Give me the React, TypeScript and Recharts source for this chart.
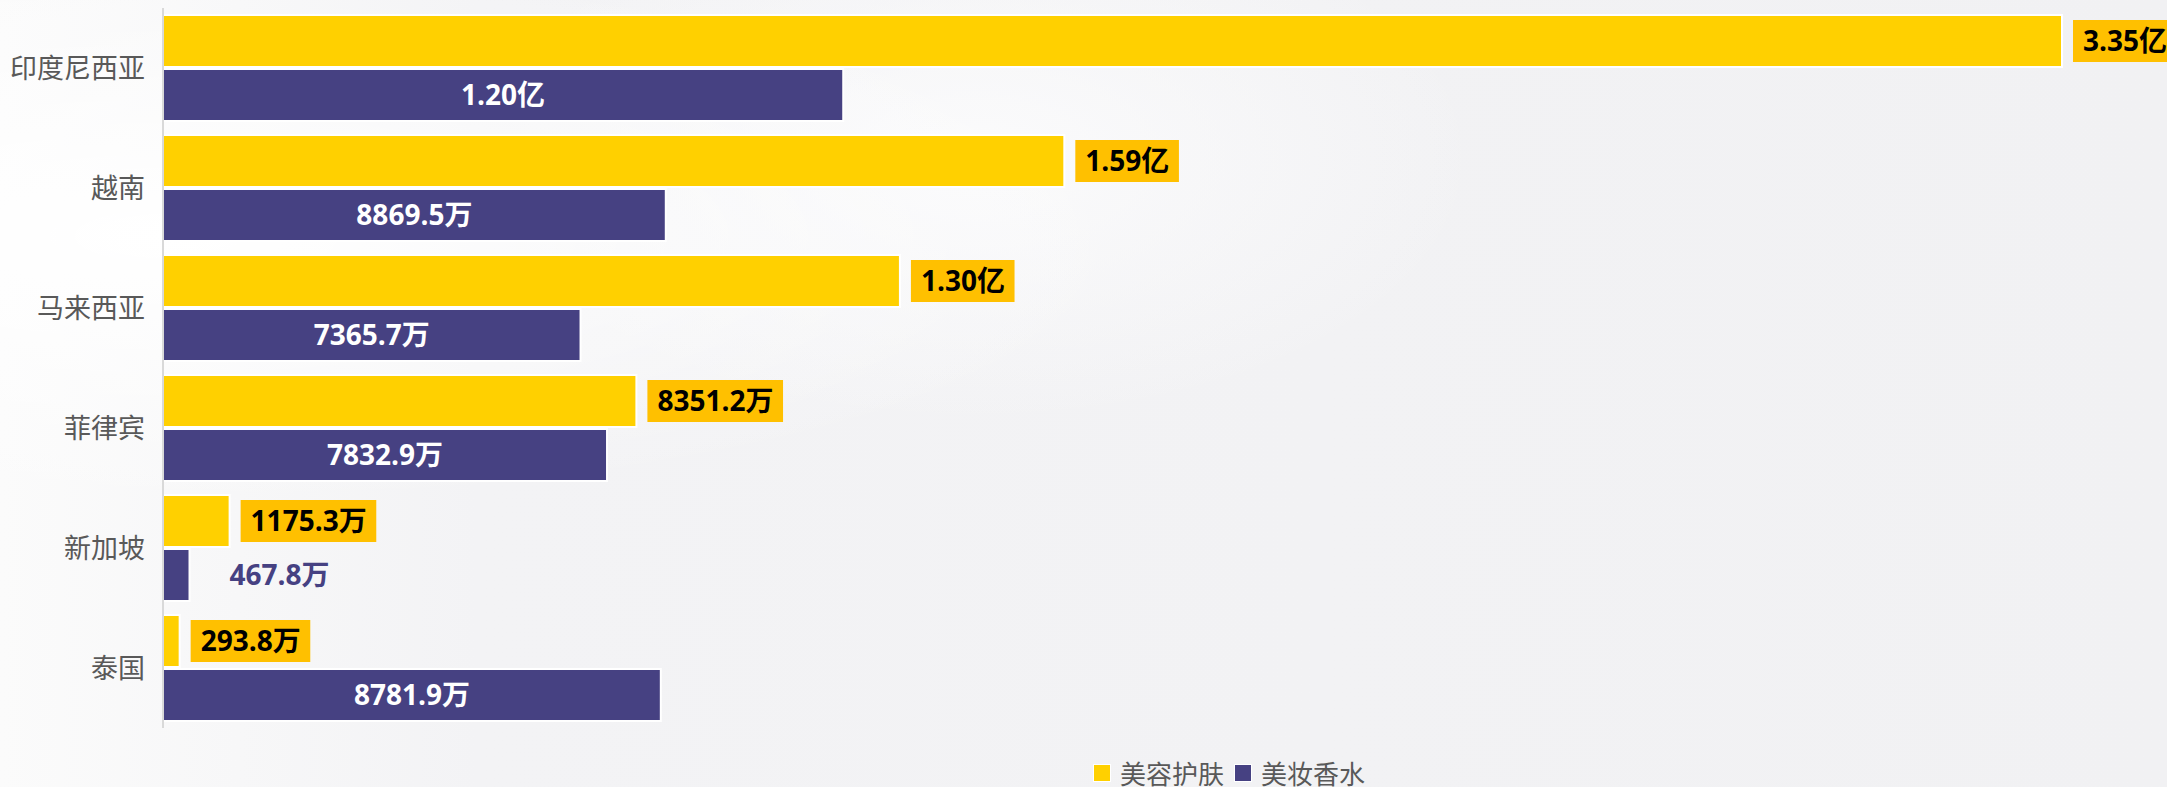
import { Bar, BarChart, LabelList, XAxis, YAxis } from "recharts";

const countries = ["印度尼西亚", "越南", "马来西亚", "菲律宾", "新加坡", "泰国"];
// 单位：万
const skincare = [33500, 15900, 13000, 8351.2, 1175.3, 293.8];
const makeup = [12000, 8869.5, 7365.7, 7832.9, 467.8, 8781.9];
const seriesNames = ["美容护肤", "美妆香水"];

const YELLOW = "#FFD000";
const PURPLE = "#464182";
const BOX = "#FFC000";
const FONT = "'Open Sans', 'Noto Sans CJK SC', sans-serif";

const data = countries.map((name, i) => ({ name, skincare: skincare[i], makeup: makeup[i] }));

function fmt(v: number) {
  return v >= 10000 ? `${(v / 10000).toFixed(2)}亿` : `${v.toFixed(1)}万`;
}

function textWidth(s: string, size: number) {
  let w = 0;
  for (const ch of s) {
    if (/[0-9]/.test(ch)) w += size * 0.572;
    else if (ch === ".") w += size * 0.27;
    else w += size;
  }
  return w;
}

function SkincareLabel(props: any) {
  const { x, y, width, height, value } = props;
  const label = fmt(value);
  const tw = textWidth(label, 28);
  const bx = x + width + 11;
  const cy = y + height / 2;
  return (
    <g>
      <rect x={bx} y={cy - 21} width={tw + 20} height={42} fill={BOX} />
      <text x={bx + 10} y={cy} dy="0.36em" fontSize={28} fontWeight={700} fill="#000" fontFamily={FONT}>
        {label}
      </text>
    </g>
  );
}

function MakeupLabel(props: any) {
  const { x, y, width, height, value } = props;
  const label = fmt(value);
  const tw = textWidth(label, 28);
  const cy = y + height / 2;
  if (tw + 20 < width) {
    return (
      <text x={x + width / 2} y={cy} dy="0.36em" textAnchor="middle" fontSize={28} fontWeight={700} fill="#fff" fontFamily={FONT}>
        {label}
      </text>
    );
  }
  return (
    <text x={x + width + 40} y={cy} dy="0.36em" fontSize={28} fontWeight={700} fill={PURPLE} fontFamily={FONT}>
      {label}
    </text>
  );
}

export default function App() {
  return (
    <div
      style={{
        position: "relative",
        width: 2167,
        height: 787,
        background:
          "radial-gradient(ellipse at 8% 30%, #ffffff 0%, rgba(255,255,255,0) 35%), radial-gradient(ellipse at 45% 20%, #fbfbfc 0%, rgba(255,255,255,0) 30%), linear-gradient(90deg, #fbfbfb 0%, #f3f3f5 22%, #f1f1f3 100%)",
      }}
    >
      <style>{"body{margin:0}"}</style>
      <BarChart
        width={2167}
        height={787}
        data={data}
        layout="vertical"
        margin={{ top: 8, right: 105, bottom: 59, left: 0 }}
        barSize={52}
        barGap={2}
      >
        <XAxis type="number" hide domain={[0, 33500]} />
        <YAxis
          type="category"
          dataKey="name"
          width={163}
          tickLine={false}
          tickSize={0}
          tickMargin={18}
          axisLine={{ stroke: "#D9D9D9", strokeWidth: 2 }}
          tick={{ fill: "#595959", fontSize: 27, fontFamily: "'Noto Sans CJK SC', sans-serif" }}
        />
        <Bar dataKey="skincare" name={seriesNames[0]} fill={YELLOW} stroke="#fff" strokeWidth={2} isAnimationActive={false}>
          <LabelList dataKey="skincare" content={SkincareLabel} />
        </Bar>
        <Bar dataKey="makeup" name={seriesNames[1]} fill={PURPLE} stroke="#fff" strokeWidth={2} isAnimationActive={false}>
          <LabelList dataKey="makeup" content={MakeupLabel} />
        </Bar>
      </BarChart>
      <div
        style={{
          position: "absolute",
          left: 1093,
          top: 757,
          display: "flex",
          alignItems: "center",
          fontFamily: "'Noto Sans CJK SC', sans-serif",
          fontSize: 26,
          color: "#595959",
          lineHeight: "32px",
        }}
      >
        {seriesNames.map((n, i) => (
          <div key={n} style={{ display: "flex", alignItems: "center", marginRight: 10 }}>
            <span
              style={{
                display: "inline-block",
                width: 16,
                height: 16,
                background: i === 0 ? YELLOW : PURPLE,
                border: "1px solid #fff",
                marginRight: 9,
              }}
            />
            <span>{n}</span>
          </div>
        ))}
      </div>
    </div>
  );
}
